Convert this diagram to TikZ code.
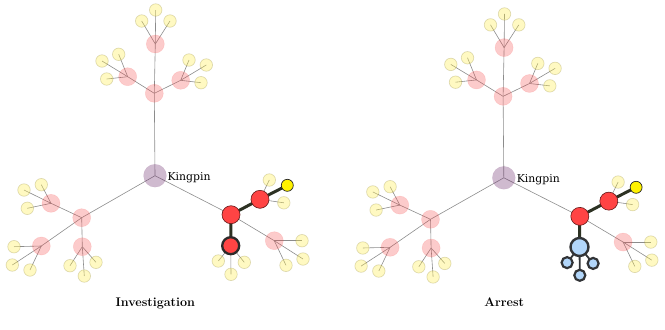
\documentclass[tikz,border=0pt]{standalone}
\usepackage{fontspec}
\newfontfamily\kingfont{DejaVu Serif}
\usetikzlibrary{backgrounds}
\definecolor{edgegray}{RGB}{140,140,140}
\definecolor{thickdark}{RGB}{45,50,35}
\definecolor{fadeyellow}{RGB}{255,238,70}
\definecolor{fadeyellowline}{RGB}{150,140,60}
\definecolor{fadered}{RGB}{245,70,70}
\definecolor{kingcol}{RGB}{110,45,110}
\definecolor{redfill}{RGB}{255,68,68}
\definecolor{redline}{RGB}{100,25,25}
\definecolor{darkline}{RGB}{45,42,42}
\definecolor{bluefill}{RGB}{178,214,250}
\definecolor{blueline}{RGB}{50,52,55}
\tikzset{
  fy/.style={circle, inner sep=0, minimum size=12.5bp, fill=fadeyellow, fill opacity=0.33, draw=fadeyellowline, draw opacity=0.3, line width=0.7bp},
  fp/.style={circle, inner sep=0, minimum size=18bp, fill=fadered, fill opacity=0.28, draw=fadered, draw opacity=0.15, line width=0.6bp},
  kp/.style={circle, inner sep=0, minimum size=23bp, fill=kingcol, fill opacity=0.33, draw=kingcol, draw opacity=0.1},
  rd/.style={circle, inner sep=0, minimum size=18bp, fill=redfill, draw=redline, line width=0.6bp},
  rdk/.style={circle, inner sep=0, minimum size=17bp, fill=redfill, draw=darkline, line width=2.3bp},
  yb/.style={circle, inner sep=0, minimum size=12bp, fill=yellow, draw=black!85, line width=0.7bp},
  bl/.style={circle, inner sep=0, minimum size=18bp, fill=bluefill, draw=blueline, line width=2.4bp},
  bls/.style={circle, inner sep=0, minimum size=11bp, fill=bluefill, draw=blueline, line width=2.2bp},
  ed/.style={draw=edgegray, line width=0.6bp},
  tk/.style={draw=thickdark, line width=3bp},
  bk/.style={draw=blueline, line width=1.8bp},
  kinglabel/.style={font=\kingfont\fontsize{10.9}{13}\selectfont, inner sep=0, anchor=base west},
  ttl/.style={font=\fontsize{12.6}{15}\selectfont\bfseries, inner sep=0, anchor=base}
}
\newcommand\mytree[1]{%
  \node[kp] (K) at (155,175.7) {};
  \node[fp] (P0) at (154.3,93.3) {};
  \node[fp] (P1) at (155.3,44) {};
  \node[fy] (P1a) at (155.7,10) {};
  \node[fy] (P1b) at (141.7,21) {};
  \node[fy] (P1c) at (170,21) {};
  \node[fp] (P2) at (127.7,76.7) {};
  \node[fy] (P2a) at (102,61) {};
  \node[fy] (P2b) at (118.7,54.3) {};
  \node[fy] (P2c) at (106.7,79) {};
  \node[fp] (P3) at (180.7,80.3) {};
  \node[fy] (P3a) at (189,60) {};
  \node[fy] (P3b) at (206.3,65) {};
  \node[fy] (P3c) at (201,82.7) {};
  \node[fp] (L0) at (81.7,217.7) {};
  \node[fp] (L1) at (51,203.3) {};
  \node[fy] (L1a) at (24,190) {};
  \node[fy] (L1b) at (41.3,184.7) {};
  \node[fy] (L1c) at (27.3,208.3) {};
  \node[fp] (L2) at (41.3,246) {};
  \node[fy] (L2a) at (14,246.7) {};
  \node[fy] (L2b) at (12.3,265) {};
  \node[fy] (L2c) at (30,270) {};
  \node[fp] (L3) at (82.3,246.7) {};
  \node[fy] (L3a) at (70,265.7) {};
  \node[fy] (L3b) at (84.3,276) {};
  \node[fy] (L3c) at (96,262.3) {};
  \node[rd] (R0) at (231,214.7) {};
  \node[rd] (R1) at (260,199.3) {};
  \node[yb] (R1a) at (287.3,185.3) {};
  \node[fy] (R1b) at (269.3,180) {};
  \node[fy] (R1c) at (283.8,202.8) {};
  \node[fp] (R3) at (274.3,240.7) {};
  \node[fy] (R3a) at (302,240.7) {};
  \node[fy] (R3b) at (303,259) {};
  \node[fy] (R3c) at (286,265.3) {};
  \ifnum#1=0
    \node[rdk] (R2) at (230.7,245.7) {};
    \node[fy] (R2a) at (218.3,261) {};
    \node[fy] (R2b) at (231,274.3) {};
    \node[fy] (R2c) at (244.3,262.3) {};
  \else
    \node[bl] (R2) at (230.7,245.7) {};
    \node[bls] (R2a) at (218.3,261.5) {};
    \node[bls] (R2b) at (231,274.3) {};
    \node[bls] (R2c) at (244.3,262.3) {};
  \fi
  \begin{pgfonlayer}{background}
    \draw[ed] (K.center) -- (P0.center);
    \draw[ed] (K.center) -- (L0.center);
    \draw[ed] (K.center) -- (R0.center);
    \draw[ed] (P0.center) -- (P1.center);
    \draw[ed] (P0.center) -- (P2.center);
    \draw[ed] (P0.center) -- (P3.center);
    \draw[ed] (P1.center) -- (P1a.center);
    \draw[ed] (P1.center) -- (P1b.center);
    \draw[ed] (P1.center) -- (P1c.center);
    \draw[ed] (P2.center) -- (P2a.center);
    \draw[ed] (P2.center) -- (P2b.center);
    \draw[ed] (P2.center) -- (P2c.center);
    \draw[ed] (P3.center) -- (P3a.center);
    \draw[ed] (P3.center) -- (P3b.center);
    \draw[ed] (P3.center) -- (P3c.center);
    \draw[ed] (L0.center) -- (L1.center);
    \draw[ed] (L0.center) -- (L2.center);
    \draw[ed] (L0.center) -- (L3.center);
    \draw[ed] (L1.center) -- (L1a.center);
    \draw[ed] (L1.center) -- (L1b.center);
    \draw[ed] (L1.center) -- (L1c.center);
    \draw[ed] (L2.center) -- (L2a.center);
    \draw[ed] (L2.center) -- (L2b.center);
    \draw[ed] (L2.center) -- (L2c.center);
    \draw[ed] (L3.center) -- (L3a.center);
    \draw[ed] (L3.center) -- (L3b.center);
    \draw[ed] (L3.center) -- (L3c.center);
    \draw[ed] (R0.center) -- (R3.center);
    \draw[ed] (R1.center) -- (R1b.center);
    \draw[ed] (R1.center) -- (R1c.center);
    \draw[ed] (R3.center) -- (R3a.center);
    \draw[ed] (R3.center) -- (R3b.center);
    \draw[ed] (R3.center) -- (R3c.center);
    \draw[tk] (R0.center) -- (R1.center);
    \draw[tk] (R1.center) -- (R1a.center);
    \draw[tk] (R0.center) -- (R2.center);
    \ifnum#1=0
      \draw[ed] (R2.center) -- (R2a.center);
      \draw[ed] (R2.center) -- (R2b.center);
      \draw[ed] (R2.center) -- (R2c.center);
    \else
      \draw[bk] (R2.center) -- (R2a.center);
      \draw[bk] (R2.center) -- (R2b.center);
      \draw[bk] (R2.center) -- (R2c.center);
    \fi
  \end{pgfonlayer}%
}
\begin{document}
\begin{tikzpicture}[x=1bp,y=-1bp]
  \useasboundingbox (0,0) rectangle (665,329);
  \begin{scope}[name prefix=I-]
    \mytree{0}
  \end{scope}
  \begin{scope}[name prefix=A-, xshift=348.8bp, yshift=-4.1bp, yscale=0.9886]
    \mytree{1}
  \end{scope}
  \node[kinglabel] (kl1) at (167.4,180.6) {Kingpin};
  \node[kinglabel] (kl2) at (516.6,182.0) {Kingpin};
  \node[ttl] (inv) at (155.3,306.6) {Investigation};
  \node[ttl] (arr) at (504.3,306.6) {Arrest};
\end{tikzpicture}
\end{document}
